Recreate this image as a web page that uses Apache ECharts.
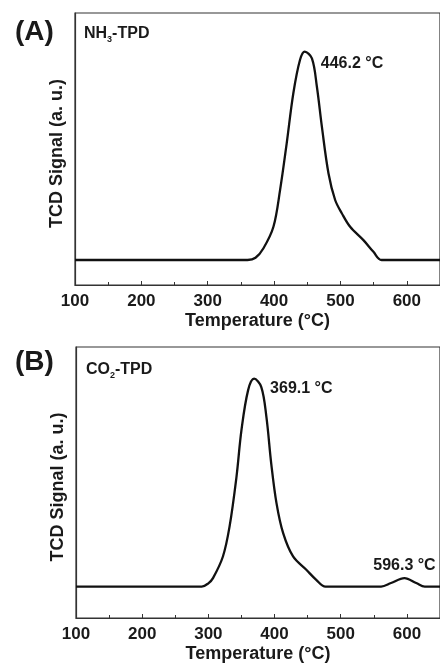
<!DOCTYPE html>
<html>
<head>
<meta charset="utf-8">
<script src="https://cdn.jsdelivr.net/npm/echarts@6/dist/echarts.min.js"></script>
<style>
  html, body { margin: 0; padding: 0; background: #fff; }
  #main { width: 440px; height: 664px; }
</style>
</head>
<body>
<div id="main"></div>
<script>
// NH3-TPD trace (panel A)
var tempA = [100, 360, 372, 384, 399, 409, 419, 429, 439, 446.2, 457, 464.5, 472, 482, 492, 502, 514.6, 534.6, 549.7, 562, 650];
var signalA = [0.092, 0.092, 0.1, 0.135, 0.214, 0.349, 0.521, 0.705, 0.827, 0.858, 0.833, 0.729, 0.582, 0.41, 0.3125, 0.264, 0.214, 0.165, 0.122, 0.092, 0.092];
var peaksA = [446.2];

// CO2-TPD trace (panel B)
var tempB = [100, 290, 300, 307, 322, 332, 342.5, 350, 360, 369.1, 380, 387.7, 395, 403, 413, 428, 448, 463, 477, 561, 576, 596.3, 614, 627, 650];
var signalB = [0.116, 0.116, 0.128, 0.147, 0.227, 0.337, 0.521, 0.693, 0.84, 0.883, 0.852, 0.742, 0.57, 0.423, 0.313, 0.227, 0.178, 0.141, 0.116, 0.116, 0.129, 0.147, 0.129, 0.116, 0.116];
var peaksB = [369.1, 596.3];

var font = 'Liberation Sans, Arial, sans-serif';
var ink = '#1a1a1a';

function pairs(xs, ys) {
    var out = [];
    for (var i = 0; i < xs.length; i++) out.push([xs[i], ys[i]]);
    return out;
}
function peakMark(xs, ys, t, pos, off) {
    var v = ys[xs.indexOf(t)];
    return {
        coord: [t, v],
        label: {
            show: true, position: pos, offset: off, distance: 5,
            formatter: t.toFixed(1) + ' °C',
            fontFamily: font, fontWeight: 'bold', fontSize: 16, color: ink
        }
    };
}
function xAx(idx) {
    return {
        type: 'value', gridIndex: idx, min: 100, max: 650, interval: 100,
        name: 'Temperature (°C)', nameLocation: 'middle', nameGap: 27,
        nameTextStyle: { fontFamily: font, fontWeight: 'bold', fontSize: 18, color: ink },
        axisLine: { lineStyle: { color: '#333', width: 1.2 } },
        axisTick: { inside: true, length: 4, lineStyle: { color: '#333' } },
        minorTick: { show: true, splitNumber: 2, length: 3, lineStyle: { color: '#333' } },
        axisLabel: { margin: 8, showMaxLabel: false, fontFamily: font, fontWeight: 'bold', fontSize: 17, color: ink },
        splitLine: { show: false }
    };
}
function yAx(idx) {
    return {
        type: 'value', gridIndex: idx, min: 0, max: 1,
        name: 'TCD Signal (a. u.)', nameLocation: 'middle', nameGap: 9,
        nameTextStyle: { fontFamily: font, fontWeight: 'bold', fontSize: 18, color: ink, padding: [0, 9, 0, 0] },
        axisLine: { show: true, lineStyle: { color: '#333', width: 1.2 } },
        axisTick: { show: false }, axisLabel: { show: false }, splitLine: { show: false }
    };
}
var titleRich = {
    a: { fontFamily: font, fontWeight: 'bold', fontSize: 16, color: ink, lineHeight: 21 },
    s: { fontFamily: font, fontWeight: 'bold', fontSize: 9, color: ink, lineHeight: 21, verticalAlign: 'bottom' }
};

var myChart = echarts.init(document.getElementById('main'));
var option = {
    backgroundColor: '#fff',
    animation: false,
    title: [
        { text: '(A)', left: 10, top: 13, textStyle: { fontFamily: font, fontWeight: 'bold', fontSize: 28, color: ink } },
        { text: '{a|NH}{s|3}{a|-TPD}', left: 79, top: 18, textStyle: { rich: titleRich } },
        { text: '(B)', left: 10, top: 343, textStyle: { fontFamily: font, fontWeight: 'bold', fontSize: 28, color: ink } },
        { text: '{a|CO}{s|2}{a|-TPD}', left: 81, top: 354, textStyle: { rich: titleRich } }
    ],
    grid: [
        { left: 75, top: 13, width: 366, height: 272, show: true, borderColor: '#333', borderWidth: 1.2 },
        { left: 76, top: 347, width: 365, height: 271, show: true, borderColor: '#333', borderWidth: 1.2 }
    ],
    xAxis: [xAx(0), xAx(1)],
    yAxis: [yAx(0), yAx(1)],
    series: [
        {
            type: 'line', xAxisIndex: 0, yAxisIndex: 0, data: pairs(tempA, signalA),
            smooth: 0.35, showSymbol: false, lineStyle: { color: '#111', width: 2.3 },
            markPoint: { symbol: 'circle', symbolSize: 0, data: [peakMark(tempA, signalA, peaksA[0], 'right', [11, 12])] }
        },
        {
            type: 'line', xAxisIndex: 1, yAxisIndex: 1, data: pairs(tempB, signalB),
            smooth: 0.35, showSymbol: false, lineStyle: { color: '#111', width: 2.3 },
            markPoint: { symbol: 'circle', symbolSize: 0, data: [
                peakMark(tempB, signalB, peaksB[0], 'right', [11, 10]),
                peakMark(tempB, signalB, peaksB[1], 'top', [0, 0])
            ] }
        }
    ]
};
myChart.setOption(option);
</script>
</body>
</html>
